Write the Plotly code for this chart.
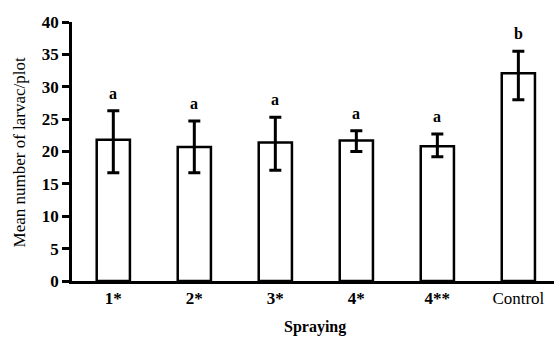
import plotly.graph_objects as go

categories = ["1*", "2*", "3*", "4*", "4**", "Control"]
tick_labels = ["<b>1*</b>", "<b>2*</b>", "<b>3*</b>", "<b>4*</b>", "<b>4**</b>", "Control"]
means = [21.8, 20.7, 21.4, 21.7, 20.8, 32.1]
err_plus = [4.5, 4.0, 3.9, 1.5, 1.9, 3.4]
err_minus = [5.1, 4.0, 4.3, 1.7, 1.6, 4.1]
letters = ["a", "a", "a", "a", "a", "b"]

fig = go.Figure()
fig.add_trace(go.Bar(
    x=list(range(len(categories))), y=means,
    width=0.41,
    marker=dict(color="white", line=dict(color="black", width=2.5)),
    error_y=dict(type="data", symmetric=False, array=err_plus, arrayminus=err_minus,
                 color="black", thickness=3, width=6),
    hoverinfo="skip",
))

for i, (m, e, l) in enumerate(zip(means, err_plus, letters)):
    fig.add_annotation(x=i, y=m + e, text="<b>" + l + "</b>", showarrow=False,
                       yanchor="bottom", yshift=7,
                       font=dict(family="Liberation Serif", size=16, color="black"))

fig.add_annotation(text="Mean number of larvac/plot", xref="paper", yref="paper",
                   x=-0.108, y=0.5, textangle=-90, showarrow=False,
                   xanchor="center", yanchor="middle",
                   font=dict(family="Liberation Serif", size=17, color="black"))
fig.add_annotation(text="<b>Spraying</b>", xref="paper", yref="paper",
                   x=0.505, y=-0.178, showarrow=False,
                   xanchor="center", yanchor="middle",
                   font=dict(family="Liberation Serif", size=16, color="black"))

fig.update_layout(
    width=555, height=337,
    margin=dict(l=72, r=1, t=22, b=56),
    plot_bgcolor="white", paper_bgcolor="white",
    showlegend=False,
    font=dict(family="Liberation Serif", size=16, color="black"),
    xaxis=dict(
        range=[-0.51, 5.44], automargin=False,
        tickmode="array", tickvals=list(range(len(categories))), ticktext=tick_labels,
        showline=True, linecolor="black", linewidth=2.5,
        ticks="", showgrid=False, zeroline=False,
        tickfont=dict(family="Liberation Serif", size=17, color="black"),
    ),
    yaxis=dict(
        range=[0, 40], tickmode="linear", tick0=0, dtick=5, automargin=False,
        showline=True, linecolor="black", linewidth=2.5,
        ticks="outside", ticklen=7, tickwidth=2.5, tickcolor="black",
        showgrid=False, zeroline=False,
        tickfont=dict(family="Liberation Serif", size=17, color="black", weight="bold"),
    ),
)

fig.write_html("out.html", config={"displayModeBar": False},
               post_script="document.body.style.margin='0';document.body.style.overflow='hidden';")
